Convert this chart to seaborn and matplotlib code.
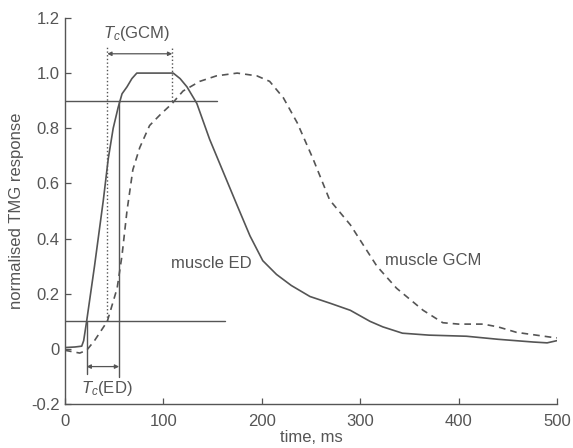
import numpy as np
import pandas as pd
import matplotlib
matplotlib.use("Agg")
import matplotlib.pyplot as plt
import seaborn as sns

# muscle ED (solid)
ed_time = [0, 10, 17, 19, 22, 30, 36, 39, 44, 49, 54, 58, 63, 68, 73, 90, 110, 117, 124, 134, 147, 161, 175,
           188, 201, 215, 230, 249, 270, 290, 310, 323, 343, 370, 408, 440, 476, 490, 500]
ed_resp = [0.005, 0.007, 0.01, 0.03, 0.1, 0.3, 0.46, 0.54, 0.69, 0.8, 0.875, 0.925, 0.95, 0.98, 1.0, 1.0, 1.0,
           0.98, 0.95, 0.89, 0.76, 0.64, 0.52, 0.41, 0.32, 0.27, 0.23, 0.19, 0.165, 0.14, 0.1, 0.08, 0.057,
           0.05, 0.046, 0.035, 0.025, 0.022, 0.03]

# muscle GCM (dashed)
gcm_time = [0, 15, 22, 30, 43, 53, 58, 63, 69, 76, 86, 97, 109, 120, 137, 154, 175, 195, 208, 222,
            236, 252, 269, 290, 317, 337, 364, 384, 400, 425, 440, 459, 493, 500]
gcm_resp = [-0.005, -0.015, -0.005, 0.03, 0.1, 0.22, 0.34, 0.5, 0.65, 0.73, 0.81, 0.85, 0.89, 0.935,
            0.97, 0.99, 1.0, 0.99, 0.97, 0.91, 0.82, 0.69, 0.54, 0.45, 0.3, 0.22, 0.14, 0.095, 0.09,
            0.09, 0.08, 0.06, 0.043, 0.04]

# contraction time markers
ed_t10, ed_t90 = 22, 55
gcm_t10, gcm_t90 = 43, 109

ed = pd.DataFrame({"time": ed_time, "resp": ed_resp})
gcm = pd.DataFrame({"time": gcm_time, "resp": gcm_resp})

sns.set_style("ticks")
plt.rcParams["font.family"] = ["Liberation Sans", "DejaVu Sans"]
plt.rcParams["mathtext.fontset"] = "custom"
plt.rcParams["mathtext.it"] = "Liberation Sans:italic"
plt.rcParams["mathtext.rm"] = "Liberation Sans"
grey = "#555555"
txt = "#555555"
fs = 12

fig = plt.figure(figsize=(5.73, 4.48), dpi=100)
ax = fig.add_axes([0.1134, 0.098, 0.8586, 0.862])

sns.lineplot(data=ed, x="time", y="resp", ax=ax, color=grey, lw=1.2)
sns.lineplot(data=gcm, x="time", y="resp", ax=ax, color=grey, lw=1.2, linestyle=(0, (4, 3)))

# threshold lines
ax.plot([0, 155], [0.9, 0.9], color=grey, lw=1.0)
ax.plot([0, 163], [0.1, 0.1], color=grey, lw=1.0)

# T_c(ED) markers
ax.plot([ed_t10, ed_t10], [0.1, -0.09], color=grey, lw=1.0)
ax.plot([ed_t90, ed_t90], [0.9, -0.1], color=grey, lw=1.0)
ax.annotate("", xy=(ed_t10, -0.064), xytext=(ed_t90, -0.064),
            arrowprops=dict(arrowstyle="<|-|>", color=grey, lw=0.9, mutation_scale=6,
                            shrinkA=0, shrinkB=0))
ax.text(43, -0.143, r"$T_c$(ED)", ha="center", va="center", fontsize=fs, color=txt)

# T_c(GCM) markers
ax.plot([gcm_t10, gcm_t10], [0.1, 1.1], color=grey, lw=1.0, linestyle=":")
ax.plot([gcm_t90, gcm_t90], [0.9, 1.1], color=grey, lw=1.0, linestyle=":")
ax.annotate("", xy=(gcm_t10, 1.07), xytext=(gcm_t90, 1.07),
            arrowprops=dict(arrowstyle="<|-|>", color=grey, lw=0.9, mutation_scale=6,
                            shrinkA=0, shrinkB=0))
ax.text(73, 1.145, r"$T_c$(GCM)", ha="center", va="center", fontsize=fs, color=txt)

ax.text(149, 0.31, "muscle ED", ha="center", va="center", fontsize=fs, color=txt)
ax.text(374, 0.32, "muscle GCM", ha="center", va="center", fontsize=fs, color=txt)

ax.set_xlim(0, 500)
ax.set_ylim(-0.2, 1.2)
ax.set_xticks([0, 100, 200, 300, 400, 500])
ax.set_yticks([-0.2, 0, 0.2, 0.4, 0.6, 0.8, 1.0, 1.2])
ax.set_yticklabels(["-0.2", "0", "0.2", "0.4", "0.6", "0.8", "1.0", "1.2"])
ax.tick_params(direction="in", length=4, color=grey, labelcolor=txt, labelsize=fs, width=0.9, pad=4)
ax.tick_params(axis="x", pad=7)
ax.set_xlabel("time, ms", fontsize=fs, color=txt, labelpad=1)
ax.set_ylabel("normalised TMG response", fontsize=fs, color=txt, labelpad=5)
for s in ["left", "bottom"]:
    ax.spines[s].set_color(grey)
    ax.spines[s].set_linewidth(1.0)
sns.despine(ax=ax)

fig.savefig("out.png", dpi=100)
